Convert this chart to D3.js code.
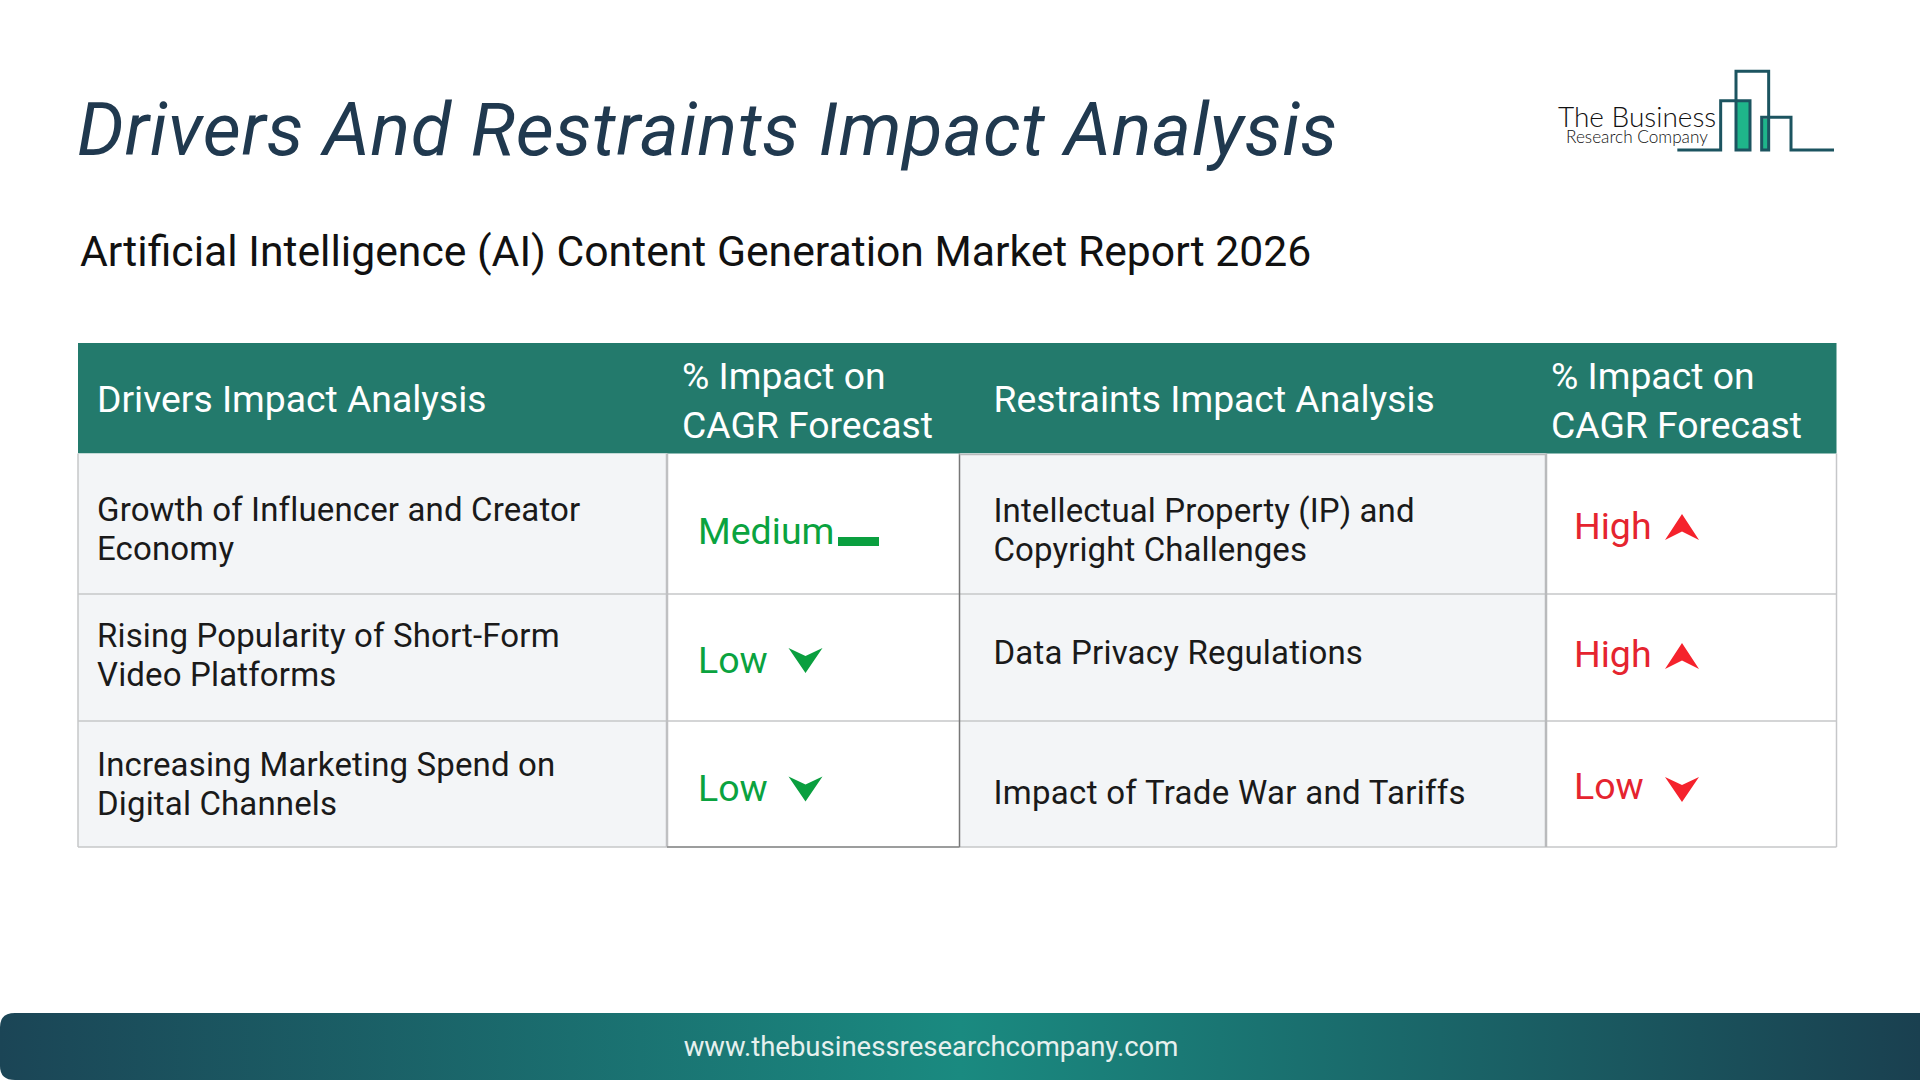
<!DOCTYPE html>
<html>
<head>
<meta charset="utf-8">
<script src="https://cdn.jsdelivr.net/npm/d3@7"></script>
<style>
  html, body { margin: 0; padding: 0; background: #fff; }
  svg { display: block; }
  text { font-family: Roboto, sans-serif; }
</style>
</head>
<body>
<div id="chart"></div>
<script>
// Table content
const columns = ["driver", "driverImpact", "restraint", "restraintImpact"];
const headerLines = [
  ["Drivers Impact Analysis"],
  ["% Impact on", "CAGR Forecast"],
  ["Restraints Impact Analysis"],
  ["% Impact on", "CAGR Forecast"]
];
const drivers = [
  ["Growth of Influencer and Creator", "Economy"],
  ["Rising Popularity of Short-Form", "Video Platforms"],
  ["Increasing Marketing Spend on", "Digital Channels"]
];
const driverImpacts = ["Medium", "Low", "Low"];
const restraints = [
  ["Intellectual Property (IP) and", "Copyright Challenges"],
  ["Data Privacy Regulations"],
  ["Impact of Trade War and Tariffs"]
];
const restraintImpacts = ["High", "High", "Low"];

const width = 1920, height = 1080;

// Layout
const colEdges = [78, 667, 959.5, 1546, 1836.5];
const rowEdges = [453.5, 594, 721, 847];
const headTop = 343;
const textX = [97, 698, 993.5, 1574];
const headX = [97, 682, 993.5, 1551];

// first line baseline for each text cell, rows differ a little in the source
const driverY = [521, 647, 776];
const restraintY = [522, 664, 804];
const driverImpactY = [544, 673, 801];
const restraintImpactY = [539, 667, 799];
// marker centres
const driverIconY = [541.5, 660.5, 789];
const restraintIconY = [527, 656, 789.5];

const x = d3.scaleOrdinal().domain(columns).range(colEdges);
const rowTop = i => rowEdges[i];
const rowBottom = i => rowEdges[i + 1];

const svg = d3.select("#chart").append("svg")
  .attr("width", width)
  .attr("height", height);

const defs = svg.append("defs");
const grad = defs.append("linearGradient").attr("id", "footerGrad");
[["0%", "#1b4556"], ["50%", "#1a8a80"], ["100%", "#1a4050"]].forEach(s => {
  grad.append("stop").attr("offset", s[0]).attr("stop-color", s[1]);
});

// Title
svg.append("text")
  .attr("x", 77).attr("y", 155)
  .attr("font-size", 74).attr("font-style", "italic")
  .attr("letter-spacing", 0.66)
  .attr("fill", "#20394f")
  .text("Drivers And Restraints Impact Analysis");

svg.append("text")
  .attr("x", 80).attr("y", 266)
  .attr("font-size", 42.7)
  .attr("fill", "#111")
  .text("Artificial Intelligence (AI) Content Generation Market Report 2026");

// Logo
const logo = svg.append("g");
const logoX = d => 1500 + d / 3, logoY = d => 40 + d / 3;
logo.append("rect").attr("x", logoX(711)).attr("y", logoY(185)).attr("width", 13).attr("height", 48).attr("fill", "#1fb58a");
logo.append("rect").attr("x", logoX(788)).attr("y", logoY(236)).attr("width", 6).attr("height", 31).attr("fill", "#1fb58a");
logo.append("path")
  .attr("d", d3.line().x(d => logoX(d[0])).y(d => logoY(d[1]))([
    [532, 330], [662, 330], [662, 182], [750, 182], [750, 330], [708, 330], [708, 94],
    [806, 94], [806, 330], [785, 330], [785, 232], [873, 232], [873, 330], [1002, 330]
  ]))
  .attr("fill", "none").attr("stroke", "#1c5460").attr("stroke-width", 3);
logo.append("text").attr("x", 1558).attr("y", 127)
  .attr("font-size", 28).attr("font-weight", 300).attr("fill", "#111")
  .style("font-family", "Lato")
  .text("The Business");
logo.append("text").attr("x", 1566).attr("y", 143)
  .attr("font-size", 17.2).attr("font-weight", 300).attr("fill", "#111")
  .style("font-family", "Lato")
  .text("Research Company");

// Header band
svg.append("rect")
  .attr("x", colEdges[0]).attr("y", headTop)
  .attr("width", colEdges[4] - colEdges[0]).attr("height", rowEdges[0] - headTop)
  .attr("fill", "#237a6c");

const headBaselines = { 1: [412], 2: [389, 438] };
svg.selectAll(".head").data(headerLines).enter().append("text")
  .attr("class", "head")
  .attr("font-size", 37.3).attr("fill", "#fff")
  .each(function(lines, c) {
    d3.select(this).selectAll("tspan").data(lines).enter().append("tspan")
      .attr("x", headX[c])
      .attr("y", (d, i) => headBaselines[lines.length][i])
      .text(d => d);
  });

// Shaded text columns
const rows = d3.range(drivers.length);
[0, 2].forEach(c => {
  svg.append("g").selectAll("rect").data(rows).enter().append("rect")
    .attr("x", x(columns[c])).attr("y", rowTop)
    .attr("width", colEdges[c + 1] - colEdges[c])
    .attr("height", r => rowBottom(r) - rowTop(r))
    .attr("fill", "#f3f5f7");
});

// Grid lines
const grid = svg.append("g").attr("stroke", "#c6c7c9").attr("stroke-width", 1.5);
grid.selectAll(".h").data(rowEdges.slice(1)).enter().append("line")
  .attr("x1", colEdges[0]).attr("x2", colEdges[4])
  .attr("y1", d => d).attr("y2", d => d);
// the source has heavier rules round the impact columns
const vStroke = ["#c6c7c9", "#bfc0c2", "#777", "#b9babc", "#c6c7c9"];
const vWidth = [1.5, 2.5, 1.5, 2.5, 1.5];
grid.selectAll(".v").data(colEdges).enter().append("line")
  .attr("x1", d => d).attr("x2", d => d)
  .attr("y1", rowEdges[0]).attr("y2", rowEdges[3])
  .attr("stroke", (d, i) => vStroke[i])
  .attr("stroke-width", (d, i) => vWidth[i]);
grid.append("line")
  .attr("x1", colEdges[1]).attr("x2", colEdges[2])
  .attr("y1", rowEdges[3]).attr("y2", rowEdges[3])
  .attr("stroke", "#8a8a8a");
grid.append("line")
  .attr("x1", colEdges[2]).attr("x2", colEdges[3])
  .attr("y1", rowEdges[0] + 1).attr("y2", rowEdges[0] + 1)
  .attr("stroke", "#b9babc");

// Text cells
function textCells(data, xPos, baselines, spacing) {
  svg.append("g").selectAll("text").data(data).enter().append("text")
    .attr("font-size", 33).attr("fill", "#1a1a1a")
    .attr("letter-spacing", (d, r) => spacing[r])
    .each(function(lines, r) {
      d3.select(this).selectAll("tspan").data(lines).enter().append("tspan")
        .attr("x", xPos)
        .attr("y", (d, i) => baselines[r] + i * 39)
        .text(d => d);
    });
}
textCells(drivers, textX[0], driverY, [0.15, 0.15, 0.15]);
textCells(restraints, textX[2], restraintY, [0.1, 0.2, 0.3]);

// Impact cells: label plus marker
const iconPath = {
  up(cx, cy) {
    const p = d3.path();
    p.moveTo(cx, cy - 13); p.lineTo(cx + 17, cy + 13); p.lineTo(cx, cy + 4.5); p.lineTo(cx - 17, cy + 13); p.closePath();
    return p.toString();
  },
  down(cx, cy) {
    const p = d3.path();
    p.moveTo(cx, cy + 12.5); p.lineTo(cx + 17, cy - 12.5); p.lineTo(cx, cy - 4.5); p.lineTo(cx - 17, cy - 12.5); p.closePath();
    return p.toString();
  },
  flat(cx, cy) {
    const p = d3.path();
    p.rect(cx - 20.5, cy - 4.5, 41, 9);
    return p.toString();
  }
};
const levelIcon = d3.scaleOrdinal().domain(["Low", "Medium", "High"]).range(["down", "flat", "up"]);

function impactCells(data, xPos, baselines, iconY, color, iconColor, iconX) {
  const g = svg.append("g").selectAll("g").data(data).enter().append("g");
  g.append("text")
    .attr("x", xPos).attr("y", (d, r) => baselines[r])
    .attr("font-size", 37.5).attr("fill", color)
    .text(d => d);
  g.append("path")
    .attr("fill", iconColor)
    .attr("d", (d, r) => {
      const icon = levelIcon(d);
      const cx = icon === "flat" ? iconX + 53 : iconX;
      return iconPath[icon](cx, iconY[r]);
    });
}
impactCells(driverImpacts, textX[1], driverImpactY, driverIconY, "#0aa33f", "#0a9f3f", 805.5);
impactCells(restraintImpacts, textX[3], restraintImpactY, restraintIconY, "#e5242f", "#f5222c", 1682);

// Footer
svg.append("path")
  .attr("d", () => {
    const p = d3.path();
    p.moveTo(15, 1080);
    p.quadraticCurveTo(0, 1080, 0, 1066);
    p.lineTo(0, 1027);
    p.quadraticCurveTo(0, 1013, 15, 1013);
    p.lineTo(1920, 1013); p.lineTo(1920, 1080); p.closePath();
    return p.toString();
  })
  .attr("fill", "url(#footerGrad)");

svg.append("text")
  .attr("x", 931).attr("y", 1056)
  .attr("text-anchor", "middle")
  .attr("font-size", 27.5).attr("fill", "#e6f0ee")
  .text("www.thebusinessresearchcompany.com");
</script>
</body>
</html>
